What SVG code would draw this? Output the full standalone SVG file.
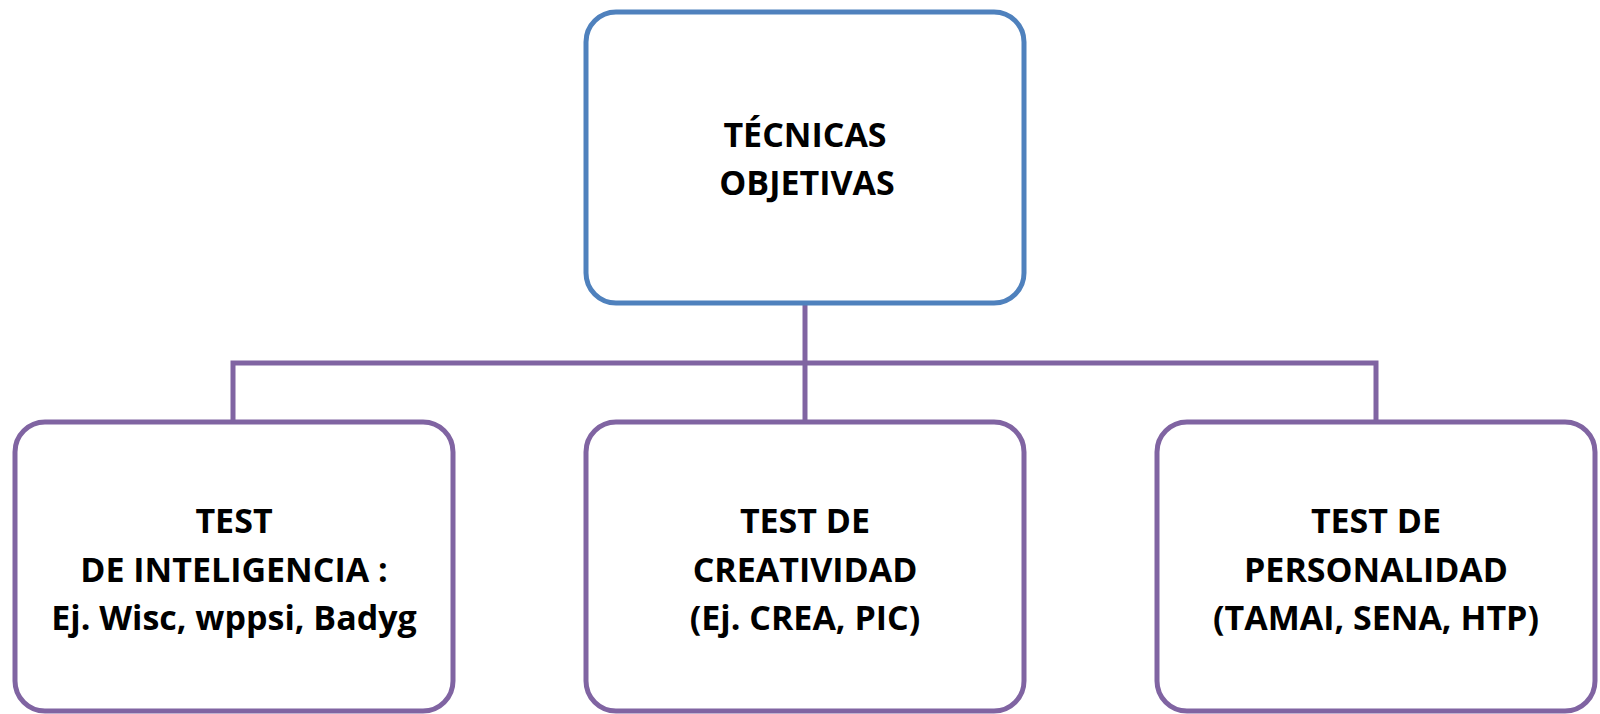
<svg xmlns="http://www.w3.org/2000/svg" width="1600" height="714" viewBox="0 0 1600 714">
<style>
.box{fill:#fff;stroke-width:5}
.top{stroke:#4F81BD}
.child{stroke:#8064A2}
.conn{fill:none;stroke:#8064A2;stroke-width:5}
text{font-family:"Open Sans","Liberation Sans",sans-serif;font-weight:bold;font-size:34px;fill:#000;text-anchor:middle}
</style>
<rect width="1600" height="714" fill="#fff"/>
<g id="connectors">
<path class="conn" d="M805 303 V421"/>
<path class="conn" d="M233 421 V363 H1376 V421"/>
</g>
<g id="node-tecnicas">
<rect class="box top" x="586" y="12" width="438" height="291" rx="30"/>
<text x="805" y="147">TÉCNICAS</text>
<text x="807" y="195">OBJETIVAS</text>
</g>
<g id="node-inteligencia">
<rect class="box child" x="15" y="422" width="438" height="289" rx="30"/>
<text x="234" y="533">TEST</text>
<text x="234" y="582">DE INTELIGENCIA :</text>
<text x="234" y="630">Ej. Wisc, wppsi, Badyg</text>
</g>
<g id="node-creatividad">
<rect class="box child" x="586" y="422" width="438" height="289" rx="30"/>
<text x="805" y="533">TEST DE</text>
<text x="805" y="582">CREATIVIDAD</text>
<text x="805" y="630">(Ej. CREA, PIC)</text>
</g>
<g id="node-personalidad">
<rect class="box child" x="1157" y="422" width="438" height="289" rx="30"/>
<text x="1376" y="533">TEST DE</text>
<text x="1376" y="582">PERSONALIDAD</text>
<text x="1376" y="630">(TAMAI, SENA, HTP)</text>
</g>
</svg>
